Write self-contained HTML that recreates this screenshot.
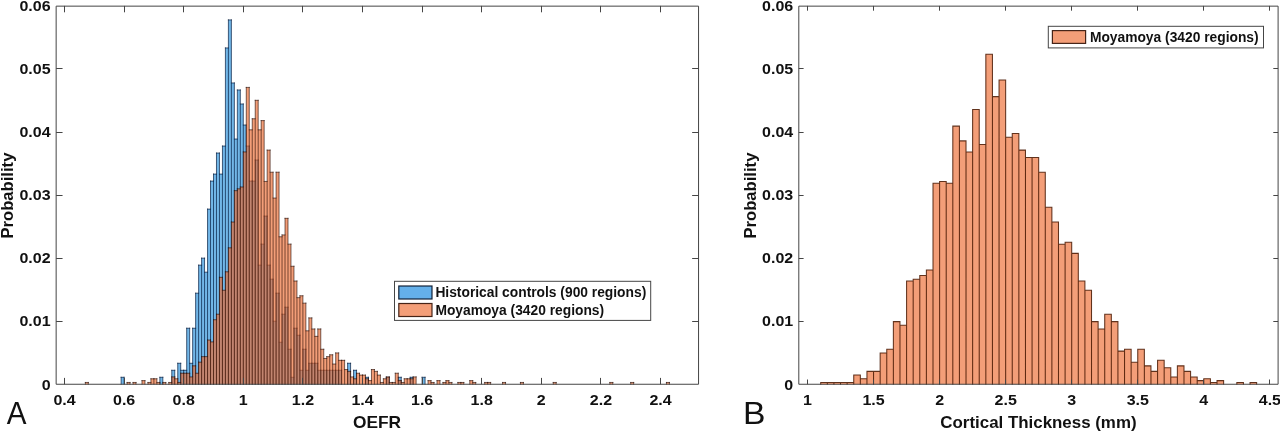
<!DOCTYPE html>
<html lang="en"><head><meta charset="utf-8"><title>Histograms</title>
<style>html,body{margin:0;padding:0;background:#fff}svg{display:block}text{font-family:"Liberation Sans", Arial, Helvetica, sans-serif;fill:#111}.t{font-size:14.7px;font-weight:bold}.l{font-size:16.9px;font-weight:bold}.g{font-size:13.8px;font-weight:bold}.p{font-size:31.2px;font-weight:normal}</style></head><body>
<svg width="1280" height="432" viewBox="0 0 1280 432">
<rect width="1280" height="432" fill="#fff"/>
<path d="M121.12 384.3V377.29H124.1V384.3ZM159.86 384.3V377.29H162.84V384.3ZM171.78 384.3V370.29H174.76V384.3ZM177.74 384.3V363.28H180.72V384.3ZM180.72 384.3V370.29H183.7V384.3ZM183.7 384.3V370.29H186.68V384.3ZM186.68 384.3V328.24H189.66V384.3ZM189.66 384.3V363.28H192.64V384.3ZM192.64 384.3V328.24H195.62V384.3ZM195.62 384.3V293.2H198.6V384.3ZM198.6 384.3V265.17H201.58V384.3ZM201.58 384.3V258.17H204.56V384.3ZM204.56 384.3V272.18H207.54V384.3ZM207.54 384.3V209.11H210.52V384.3ZM210.52 384.3V181.09H213.5V384.3ZM213.5 384.3V174.08H216.48V384.3ZM216.48 384.3V153.06H219.46V384.3ZM219.46 384.3V174.08H222.44V384.3ZM222.44 384.3V146.05H225.42V384.3ZM225.42 384.3V47.94H228.4V384.3ZM228.4 384.3V19.91H231.38V384.3ZM231.38 384.3V82.98H234.36V384.3ZM234.36 384.3V139.04H237.34V384.3ZM237.34 384.3V89.99H240.32V384.3ZM240.32 384.3V104H243.3V384.3ZM243.3 384.3V125.03H246.28V384.3ZM246.28 384.3V146.05H249.26V384.3ZM249.26 384.3V181.09H252.24V384.3ZM252.24 384.3V181.09H255.22V384.3ZM255.22 384.3V160.06H258.2V384.3ZM258.2 384.3V265.17H261.18V384.3ZM261.18 384.3V244.15H264.16V384.3ZM264.16 384.3V216.12H267.14V384.3ZM267.14 384.3V265.17H270.12V384.3ZM270.12 384.3V279.19H273.1V384.3ZM273.1 384.3V321.23H276.08V384.3ZM276.08 384.3V293.2H279.06V384.3ZM279.06 384.3V342.26H282.04V384.3ZM282.04 384.3V314.23H285.02V384.3ZM285.02 384.3V307.22H288V384.3ZM288 384.3V349.26H290.98V384.3ZM290.98 384.3V377.29H293.96V384.3ZM293.96 384.3V328.24H296.94V384.3ZM296.94 384.3V335.25H299.92V384.3ZM299.92 384.3V370.29H302.9V384.3ZM302.9 384.3V349.26H305.88V384.3ZM305.88 384.3V370.29H308.86V384.3ZM308.86 384.3V363.28H311.84V384.3ZM311.84 384.3V363.28H314.82V384.3ZM314.82 384.3V363.28H317.8V384.3ZM317.8 384.3V370.29H320.78V384.3ZM320.78 384.3V370.29H323.76V384.3ZM323.76 384.3V370.29H326.74V384.3ZM326.74 384.3V370.29H329.72V384.3ZM329.72 384.3V370.29H332.7V384.3ZM332.7 384.3V370.29H335.68V384.3ZM335.68 384.3V370.29H338.66V384.3ZM338.66 384.3V370.29H341.64V384.3ZM347.6 384.3V363.28H350.58V384.3ZM353.56 384.3V370.29H356.54V384.3ZM365.48 384.3V377.29H368.46V384.3ZM386.34 384.3V377.29H389.32V384.3ZM398.26 384.3V377.29H401.24V384.3ZM410.18 384.3V377.29H413.16V384.3ZM422.1 384.3V377.29H425.08V384.3Z" fill="rgb(114,183,232)"/><path d="M121.12 377.29H124.1M159.86 377.29H162.84M171.78 370.29H174.76M177.74 363.28H180.72M180.72 370.29H183.7M183.7 370.29H186.68M186.68 328.24H189.66M189.66 363.28H192.64M192.64 328.24H195.62M195.62 293.2H198.6M198.6 265.17H201.58M201.58 258.17H204.56M204.56 272.18H207.54M207.54 209.11H210.52M210.52 181.09H213.5M213.5 174.08H216.48M216.48 153.06H219.46M219.46 174.08H222.44M222.44 146.05H225.42M225.42 47.94H228.4M228.4 19.91H231.38M231.38 82.98H234.36M234.36 139.04H237.34M237.34 89.99H240.32M240.32 104H243.3M243.3 125.03H246.28M246.28 146.05H249.26M249.26 181.09H252.24M252.24 181.09H255.22M255.22 160.06H258.2M258.2 265.17H261.18M261.18 244.15H264.16M264.16 216.12H267.14M267.14 265.17H270.12M270.12 279.19H273.1M273.1 321.23H276.08M276.08 293.2H279.06M279.06 342.26H282.04M282.04 314.23H285.02M285.02 307.22H288M288 349.26H290.98M290.98 377.29H293.96M293.96 328.24H296.94M296.94 335.25H299.92M299.92 370.29H302.9M302.9 349.26H305.88M305.88 370.29H308.86M308.86 363.28H311.84M311.84 363.28H314.82M314.82 363.28H317.8M317.8 370.29H320.78M320.78 370.29H323.76M323.76 370.29H326.74M326.74 370.29H329.72M329.72 370.29H332.7M332.7 370.29H335.68M335.68 370.29H338.66M338.66 370.29H341.64M347.6 363.28H350.58M353.56 370.29H356.54M365.48 377.29H368.46M386.34 377.29H389.32M398.26 377.29H401.24M410.18 377.29H413.16M422.1 377.29H425.08M121.12 384.3V377.29M124.1 384.3V377.29M159.86 384.3V377.29M162.84 384.3V377.29M171.78 384.3V370.29M174.76 384.3V370.29M177.74 384.3V363.28M180.72 384.3V363.28M183.7 384.3V370.29M186.68 384.3V328.24M189.66 384.3V328.24M192.64 384.3V328.24M195.62 384.3V293.2M198.6 384.3V265.17M201.58 384.3V258.17M204.56 384.3V258.17M207.54 384.3V209.11M210.52 384.3V181.09M213.5 384.3V174.08M216.48 384.3V153.06M219.46 384.3V153.06M222.44 384.3V146.05M225.42 384.3V47.94M228.4 384.3V19.91M231.38 384.3V19.91M234.36 384.3V82.98M237.34 384.3V89.99M240.32 384.3V89.99M243.3 384.3V104M246.28 384.3V125.03M249.26 384.3V146.05M252.24 384.3V181.09M255.22 384.3V160.06M258.2 384.3V160.06M261.18 384.3V244.15M264.16 384.3V216.12M267.14 384.3V216.12M270.12 384.3V265.17M273.1 384.3V279.19M276.08 384.3V293.2M279.06 384.3V293.2M282.04 384.3V314.23M285.02 384.3V307.22M288 384.3V307.22M290.98 384.3V349.26M293.96 384.3V328.24M296.94 384.3V328.24M299.92 384.3V335.25M302.9 384.3V349.26M305.88 384.3V349.26M308.86 384.3V363.28M311.84 384.3V363.28M314.82 384.3V363.28M317.8 384.3V363.28M320.78 384.3V370.29M323.76 384.3V370.29M326.74 384.3V370.29M329.72 384.3V370.29M332.7 384.3V370.29M335.68 384.3V370.29M338.66 384.3V370.29M341.64 384.3V370.29M347.6 384.3V363.28M350.58 384.3V363.28M353.56 384.3V370.29M356.54 384.3V370.29M365.48 384.3V377.29M368.46 384.3V377.29M386.34 384.3V377.29M389.32 384.3V377.29M398.26 384.3V377.29M401.24 384.3V377.29M410.18 384.3V377.29M413.16 384.3V377.29M422.1 384.3V377.29M425.08 384.3V377.29" fill="none" stroke="rgba(0,25,60,0.95)" stroke-width="0.72" stroke-linecap="square"/>
<path d="M85.36 384.3V382.46H88.34V384.3ZM127.08 384.3V382.46H130.06V384.3ZM133.04 384.3V382.46H136.02V384.3ZM141.98 384.3V380.61H144.96V384.3ZM147.94 384.3V382.46H150.92V384.3ZM150.92 384.3V378.77H153.9V384.3ZM153.9 384.3V378.77H156.88V384.3ZM156.88 384.3V382.46H159.86V384.3ZM162.84 384.3V382.46H165.82V384.3ZM168.8 384.3V382.46H171.78V384.3ZM171.78 384.3V376.92H174.76V384.3ZM174.76 384.3V378.77H177.74V384.3ZM177.74 384.3V382.46H180.72V384.3ZM180.72 384.3V373.24H183.7V384.3ZM183.7 384.3V373.24H186.68V384.3ZM186.68 384.3V373.24H189.66V384.3ZM189.66 384.3V376.92H192.64V384.3ZM192.64 384.3V365.86H195.62V384.3ZM195.62 384.3V373.24H198.6V384.3ZM198.6 384.3V362.17H201.58V384.3ZM201.58 384.3V356.64H204.56V384.3ZM204.56 384.3V356.64H207.54V384.3ZM207.54 384.3V340.04H210.52V384.3ZM210.52 384.3V341.89H213.5V384.3ZM213.5 384.3V319.76H216.48V384.3ZM216.48 384.3V314.23H219.46V384.3ZM219.46 384.3V277.34H222.44V384.3ZM222.44 384.3V290.25H225.42V384.3ZM225.42 384.3V271.81H228.4V384.3ZM228.4 384.3V247.84H231.38V384.3ZM231.38 384.3V222.02H234.36V384.3ZM234.36 384.3V190.67H237.34V384.3ZM237.34 384.3V188.83H240.32V384.3ZM240.32 384.3V186.99H243.3V384.3ZM243.3 384.3V151.95H246.28V384.3ZM246.28 384.3V87.41H249.26V384.3ZM249.26 384.3V129.82H252.24V384.3ZM252.24 384.3V118.76H255.22V384.3ZM255.22 384.3V100.32H258.2V384.3ZM258.2 384.3V129.82H261.18V384.3ZM261.18 384.3V120.6H264.16V384.3ZM264.16 384.3V181.45H267.14V384.3ZM267.14 384.3V150.11H270.12V384.3ZM270.12 384.3V172.23H273.1V384.3ZM273.1 384.3V198.05H276.08V384.3ZM276.08 384.3V172.23H279.06V384.3ZM279.06 384.3V236.78H282.04V384.3ZM282.04 384.3V234.93H285.02V384.3ZM285.02 384.3V218.34H288V384.3ZM288 384.3V244.15H290.98V384.3ZM290.98 384.3V266.28H293.96V384.3ZM293.96 384.3V281.03H296.94V384.3ZM296.94 384.3V297.63H299.92V384.3ZM299.92 384.3V295.79H302.9V384.3ZM302.9 384.3V303.16H305.88V384.3ZM305.88 384.3V330.82H308.86V384.3ZM308.86 384.3V317.91H311.84V384.3ZM311.84 384.3V328.98H314.82V384.3ZM314.82 384.3V336.35H317.8V384.3ZM317.8 384.3V328.98H320.78V384.3ZM320.78 384.3V349.26H323.76V384.3ZM323.76 384.3V358.48H326.74V384.3ZM326.74 384.3V356.64H329.72V384.3ZM329.72 384.3V354.8H332.7V384.3ZM332.7 384.3V364.02H335.68V384.3ZM335.68 384.3V352.95H338.66V384.3ZM338.66 384.3V360.33H341.64V384.3ZM341.64 384.3V360.33H344.62V384.3ZM344.62 384.3V369.55H347.6V384.3ZM347.6 384.3V371.39H350.58V384.3ZM350.58 384.3V376.92H353.56V384.3ZM353.56 384.3V378.77H356.54V384.3ZM356.54 384.3V373.24H359.52V384.3ZM359.52 384.3V375.08H362.5V384.3ZM362.5 384.3V375.08H365.48V384.3ZM365.48 384.3V378.77H368.46V384.3ZM368.46 384.3V380.61H371.44V384.3ZM371.44 384.3V369.55H374.42V384.3ZM374.42 384.3V371.39H377.4V384.3ZM377.4 384.3V375.08H380.38V384.3ZM380.38 384.3V382.46H383.36V384.3ZM383.36 384.3V378.77H386.34V384.3ZM386.34 384.3V376.92H389.32V384.3ZM389.32 384.3V382.46H392.3V384.3ZM392.3 384.3V382.46H395.28V384.3ZM395.28 384.3V373.24H398.26V384.3ZM398.26 384.3V380.61H401.24V384.3ZM401.24 384.3V382.46H404.22V384.3ZM404.22 384.3V378.77H407.2V384.3ZM407.2 384.3V378.77H410.18V384.3ZM410.18 384.3V378.77H413.16V384.3ZM413.16 384.3V376.92H416.14V384.3ZM428.06 384.3V380.61H431.04V384.3ZM431.04 384.3V382.46H434.02V384.3ZM437 384.3V380.61H439.98V384.3ZM442.96 384.3V382.46H445.94V384.3ZM445.94 384.3V380.61H448.92V384.3ZM448.92 384.3V382.46H451.9V384.3ZM457.86 384.3V382.46H460.84V384.3ZM460.84 384.3V382.46H463.82V384.3ZM469.78 384.3V380.61H472.76V384.3ZM472.76 384.3V382.46H475.74V384.3ZM484.68 384.3V382.46H487.66V384.3ZM487.66 384.3V382.46H490.64V384.3ZM502.56 384.3V382.46H505.54V384.3ZM520.44 384.3V382.46H523.42V384.3ZM553.22 384.3V382.46H556.2V384.3ZM609.84 384.3V382.46H612.82V384.3ZM630.7 384.3V382.46H633.68V384.3ZM666.46 384.3V382.46H669.44V384.3Z" fill="rgba(237,106,48,0.65)"/><path d="M85.36 382.46H88.34M127.08 382.46H130.06M133.04 382.46H136.02M141.98 380.61H144.96M147.94 382.46H150.92M150.92 378.77H153.9M153.9 378.77H156.88M156.88 382.46H159.86M162.84 382.46H165.82M168.8 382.46H171.78M171.78 376.92H174.76M174.76 378.77H177.74M177.74 382.46H180.72M180.72 373.24H183.7M183.7 373.24H186.68M186.68 373.24H189.66M189.66 376.92H192.64M192.64 365.86H195.62M195.62 373.24H198.6M198.6 362.17H201.58M201.58 356.64H204.56M204.56 356.64H207.54M207.54 340.04H210.52M210.52 341.89H213.5M213.5 319.76H216.48M216.48 314.23H219.46M219.46 277.34H222.44M222.44 290.25H225.42M225.42 271.81H228.4M228.4 247.84H231.38M231.38 222.02H234.36M234.36 190.67H237.34M237.34 188.83H240.32M240.32 186.99H243.3M243.3 151.95H246.28M246.28 87.41H249.26M249.26 129.82H252.24M252.24 118.76H255.22M255.22 100.32H258.2M258.2 129.82H261.18M261.18 120.6H264.16M264.16 181.45H267.14M267.14 150.11H270.12M270.12 172.23H273.1M273.1 198.05H276.08M276.08 172.23H279.06M279.06 236.78H282.04M282.04 234.93H285.02M285.02 218.34H288M288 244.15H290.98M290.98 266.28H293.96M293.96 281.03H296.94M296.94 297.63H299.92M299.92 295.79H302.9M302.9 303.16H305.88M305.88 330.82H308.86M308.86 317.91H311.84M311.84 328.98H314.82M314.82 336.35H317.8M317.8 328.98H320.78M320.78 349.26H323.76M323.76 358.48H326.74M326.74 356.64H329.72M329.72 354.8H332.7M332.7 364.02H335.68M335.68 352.95H338.66M338.66 360.33H341.64M341.64 360.33H344.62M344.62 369.55H347.6M347.6 371.39H350.58M350.58 376.92H353.56M353.56 378.77H356.54M356.54 373.24H359.52M359.52 375.08H362.5M362.5 375.08H365.48M365.48 378.77H368.46M368.46 380.61H371.44M371.44 369.55H374.42M374.42 371.39H377.4M377.4 375.08H380.38M380.38 382.46H383.36M383.36 378.77H386.34M386.34 376.92H389.32M389.32 382.46H392.3M392.3 382.46H395.28M395.28 373.24H398.26M398.26 380.61H401.24M401.24 382.46H404.22M404.22 378.77H407.2M407.2 378.77H410.18M410.18 378.77H413.16M413.16 376.92H416.14M428.06 380.61H431.04M431.04 382.46H434.02M437 380.61H439.98M442.96 382.46H445.94M445.94 380.61H448.92M448.92 382.46H451.9M457.86 382.46H460.84M460.84 382.46H463.82M469.78 380.61H472.76M472.76 382.46H475.74M484.68 382.46H487.66M487.66 382.46H490.64M502.56 382.46H505.54M520.44 382.46H523.42M553.22 382.46H556.2M609.84 382.46H612.82M630.7 382.46H633.68M666.46 382.46H669.44M85.36 384.3V382.46M88.34 384.3V382.46M127.08 384.3V382.46M130.06 384.3V382.46M133.04 384.3V382.46M136.02 384.3V382.46M141.98 384.3V380.61M144.96 384.3V380.61M147.94 384.3V382.46M150.92 384.3V378.77M153.9 384.3V378.77M156.88 384.3V378.77M159.86 384.3V382.46M162.84 384.3V382.46M165.82 384.3V382.46M168.8 384.3V382.46M171.78 384.3V376.92M174.76 384.3V376.92M177.74 384.3V378.77M180.72 384.3V373.24M183.7 384.3V373.24M186.68 384.3V373.24M189.66 384.3V373.24M192.64 384.3V365.86M195.62 384.3V365.86M198.6 384.3V362.17M201.58 384.3V356.64M204.56 384.3V356.64M207.54 384.3V340.04M210.52 384.3V340.04M213.5 384.3V319.76M216.48 384.3V314.23M219.46 384.3V277.34M222.44 384.3V277.34M225.42 384.3V271.81M228.4 384.3V247.84M231.38 384.3V222.02M234.36 384.3V190.67M237.34 384.3V188.83M240.32 384.3V186.99M243.3 384.3V151.95M246.28 384.3V87.41M249.26 384.3V87.41M252.24 384.3V118.76M255.22 384.3V100.32M258.2 384.3V100.32M261.18 384.3V120.6M264.16 384.3V120.6M267.14 384.3V150.11M270.12 384.3V150.11M273.1 384.3V172.23M276.08 384.3V172.23M279.06 384.3V172.23M282.04 384.3V234.93M285.02 384.3V218.34M288 384.3V218.34M290.98 384.3V244.15M293.96 384.3V266.28M296.94 384.3V281.03M299.92 384.3V295.79M302.9 384.3V295.79M305.88 384.3V303.16M308.86 384.3V317.91M311.84 384.3V317.91M314.82 384.3V328.98M317.8 384.3V328.98M320.78 384.3V328.98M323.76 384.3V349.26M326.74 384.3V356.64M329.72 384.3V354.8M332.7 384.3V354.8M335.68 384.3V352.95M338.66 384.3V352.95M341.64 384.3V360.33M344.62 384.3V360.33M347.6 384.3V369.55M350.58 384.3V371.39M353.56 384.3V376.92M356.54 384.3V373.24M359.52 384.3V373.24M362.5 384.3V375.08M365.48 384.3V375.08M368.46 384.3V378.77M371.44 384.3V369.55M374.42 384.3V369.55M377.4 384.3V371.39M380.38 384.3V375.08M383.36 384.3V378.77M386.34 384.3V376.92M389.32 384.3V376.92M392.3 384.3V382.46M395.28 384.3V373.24M398.26 384.3V373.24M401.24 384.3V380.61M404.22 384.3V378.77M407.2 384.3V378.77M410.18 384.3V378.77M413.16 384.3V376.92M416.14 384.3V376.92M428.06 384.3V380.61M431.04 384.3V380.61M434.02 384.3V382.46M437 384.3V380.61M439.98 384.3V380.61M442.96 384.3V382.46M445.94 384.3V380.61M448.92 384.3V380.61M451.9 384.3V382.46M457.86 384.3V382.46M460.84 384.3V382.46M463.82 384.3V382.46M469.78 384.3V380.61M472.76 384.3V380.61M475.74 384.3V382.46M484.68 384.3V382.46M487.66 384.3V382.46M490.64 384.3V382.46M502.56 384.3V382.46M505.54 384.3V382.46M520.44 384.3V382.46M523.42 384.3V382.46M553.22 384.3V382.46M556.2 384.3V382.46M609.84 384.3V382.46M612.82 384.3V382.46M630.7 384.3V382.46M633.68 384.3V382.46M666.46 384.3V382.46M669.44 384.3V382.46" fill="none" stroke="rgba(40,10,0,0.88)" stroke-width="0.7" stroke-linecap="square"/>
<path d="M820.71 384.3V382.46H827.32V384.3ZM827.32 384.3V382.46H833.92V384.3ZM833.92 384.3V382.46H840.52V384.3ZM840.52 384.3V382.46H847.13V384.3ZM847.13 384.3V382.46H853.74V384.3ZM853.74 384.3V375.08H860.34V384.3ZM860.34 384.3V378.77H866.95V384.3ZM866.95 384.3V371.39H873.55V384.3ZM873.55 384.3V371.39H880.15V384.3ZM880.15 384.3V352.95H886.76V384.3ZM886.76 384.3V349.26H893.37V384.3ZM893.37 384.3V321.6H899.97V384.3ZM899.97 384.3V325.29H906.58V384.3ZM906.58 384.3V281.03H913.18V384.3ZM913.18 384.3V279.19H919.78V384.3ZM919.78 384.3V275.5H926.39V384.3ZM926.39 384.3V269.97H933V384.3ZM933 384.3V183.3H939.6V384.3ZM939.6 384.3V181.45H946.21V384.3ZM946.21 384.3V183.3H952.81V384.3ZM952.81 384.3V126.13H959.42V384.3ZM959.42 384.3V140.88H966.02V384.3ZM966.02 384.3V151.95H972.62V384.3ZM972.62 384.3V109.54H979.23V384.3ZM979.23 384.3V144.57H985.84V384.3ZM985.84 384.3V54.21H992.44V384.3ZM992.44 384.3V96.63H999.05V384.3ZM999.05 384.3V80.03H1005.65V384.3ZM1005.65 384.3V137.2H1012.25V384.3ZM1012.25 384.3V133.51H1018.86V384.3ZM1018.86 384.3V150.11H1025.47V384.3ZM1025.47 384.3V157.48H1032.07V384.3ZM1032.07 384.3V157.48H1038.67V384.3ZM1038.67 384.3V172.23H1045.28V384.3ZM1045.28 384.3V207.27H1051.88V384.3ZM1051.88 384.3V222.02H1058.49V384.3ZM1058.49 384.3V244.15H1065.1V384.3ZM1065.1 384.3V242.31H1071.7V384.3ZM1071.7 384.3V253.37H1078.31V384.3ZM1078.31 384.3V281.03H1084.91V384.3ZM1084.91 384.3V290.25H1091.52V384.3ZM1091.52 384.3V321.6H1098.12V384.3ZM1098.12 384.3V328.98H1104.72V384.3ZM1104.72 384.3V314.23H1111.33V384.3ZM1111.33 384.3V321.6H1117.93V384.3ZM1117.93 384.3V351.11H1124.54V384.3ZM1124.54 384.3V349.26H1131.14V384.3ZM1131.14 384.3V362.17H1137.75V384.3ZM1137.75 384.3V349.26H1144.36V384.3ZM1144.36 384.3V365.86H1150.96V384.3ZM1150.96 384.3V371.39H1157.57V384.3ZM1157.57 384.3V360.33H1164.17V384.3ZM1164.17 384.3V367.7H1170.78V384.3ZM1170.78 384.3V376.92H1177.38V384.3ZM1177.38 384.3V365.86H1183.99V384.3ZM1183.99 384.3V371.39H1190.59V384.3ZM1190.59 384.3V376.92H1197.19V384.3ZM1197.19 384.3V380.61H1203.8V384.3ZM1203.8 384.3V378.77H1210.41V384.3ZM1210.41 384.3V382.46H1217.01V384.3ZM1217.01 384.3V380.61H1223.62V384.3ZM1236.83 384.3V382.46H1243.43V384.3ZM1250.03 384.3V382.46H1256.64V384.3Z" fill="rgba(237,106,48,0.65)"/><path d="M820.71 382.46H827.32M827.32 382.46H833.92M833.92 382.46H840.52M840.52 382.46H847.13M847.13 382.46H853.74M853.74 375.08H860.34M860.34 378.77H866.95M866.95 371.39H873.55M873.55 371.39H880.15M880.15 352.95H886.76M886.76 349.26H893.37M893.37 321.6H899.97M899.97 325.29H906.58M906.58 281.03H913.18M913.18 279.19H919.78M919.78 275.5H926.39M926.39 269.97H933M933 183.3H939.6M939.6 181.45H946.21M946.21 183.3H952.81M952.81 126.13H959.42M959.42 140.88H966.02M966.02 151.95H972.62M972.62 109.54H979.23M979.23 144.57H985.84M985.84 54.21H992.44M992.44 96.63H999.05M999.05 80.03H1005.65M1005.65 137.2H1012.25M1012.25 133.51H1018.86M1018.86 150.11H1025.47M1025.47 157.48H1032.07M1032.07 157.48H1038.67M1038.67 172.23H1045.28M1045.28 207.27H1051.88M1051.88 222.02H1058.49M1058.49 244.15H1065.1M1065.1 242.31H1071.7M1071.7 253.37H1078.31M1078.31 281.03H1084.91M1084.91 290.25H1091.52M1091.52 321.6H1098.12M1098.12 328.98H1104.72M1104.72 314.23H1111.33M1111.33 321.6H1117.93M1117.93 351.11H1124.54M1124.54 349.26H1131.14M1131.14 362.17H1137.75M1137.75 349.26H1144.36M1144.36 365.86H1150.96M1150.96 371.39H1157.57M1157.57 360.33H1164.17M1164.17 367.7H1170.78M1170.78 376.92H1177.38M1177.38 365.86H1183.99M1183.99 371.39H1190.59M1190.59 376.92H1197.19M1197.19 380.61H1203.8M1203.8 378.77H1210.41M1210.41 382.46H1217.01M1217.01 380.61H1223.62M1236.83 382.46H1243.43M1250.03 382.46H1256.64M820.71 384.3V382.46M827.32 384.3V382.46M833.92 384.3V382.46M840.52 384.3V382.46M847.13 384.3V382.46M853.74 384.3V375.08M860.34 384.3V375.08M866.95 384.3V371.39M873.55 384.3V371.39M880.15 384.3V352.95M886.76 384.3V349.26M893.37 384.3V321.6M899.97 384.3V321.6M906.58 384.3V281.03M913.18 384.3V279.19M919.78 384.3V275.5M926.39 384.3V269.97M933 384.3V183.3M939.6 384.3V181.45M946.21 384.3V181.45M952.81 384.3V126.13M959.42 384.3V126.13M966.02 384.3V140.88M972.62 384.3V109.54M979.23 384.3V109.54M985.84 384.3V54.21M992.44 384.3V54.21M999.05 384.3V80.03M1005.65 384.3V80.03M1012.25 384.3V133.51M1018.86 384.3V133.51M1025.47 384.3V150.11M1032.07 384.3V157.48M1038.67 384.3V157.48M1045.28 384.3V172.23M1051.88 384.3V207.27M1058.49 384.3V222.02M1065.1 384.3V242.31M1071.7 384.3V242.31M1078.31 384.3V253.37M1084.91 384.3V281.03M1091.52 384.3V290.25M1098.12 384.3V321.6M1104.72 384.3V314.23M1111.33 384.3V314.23M1117.93 384.3V321.6M1124.54 384.3V349.26M1131.14 384.3V349.26M1137.75 384.3V349.26M1144.36 384.3V349.26M1150.96 384.3V365.86M1157.57 384.3V360.33M1164.17 384.3V360.33M1170.78 384.3V367.7M1177.38 384.3V365.86M1183.99 384.3V365.86M1190.59 384.3V371.39M1197.19 384.3V376.92M1203.8 384.3V378.77M1210.41 384.3V378.77M1217.01 384.3V380.61M1223.62 384.3V380.61M1236.83 384.3V382.46M1243.43 384.3V382.46M1250.03 384.3V382.46M1256.64 384.3V382.46" fill="none" stroke="rgba(70,22,0,0.85)" stroke-width="1.05" stroke-linecap="square"/>
<path d="M56.15 6.15H698.55V384.25H56.15Z" fill="none" stroke="#454545" stroke-width="1.0"/><path d="M64.5 384.3V377.9M64.5 5.9V12.3M124.5 384.3V377.9M124.5 5.9V12.3M183.5 384.3V377.9M183.5 5.9V12.3M243.5 384.3V377.9M243.5 5.9V12.3M302.5 384.3V377.9M302.5 5.9V12.3M362.5 384.3V377.9M362.5 5.9V12.3M422.5 384.3V377.9M422.5 5.9V12.3M481.5 384.3V377.9M481.5 5.9V12.3M541.5 384.3V377.9M541.5 5.9V12.3M600.5 384.3V377.9M600.5 5.9V12.3M660.5 384.3V377.9M660.5 5.9V12.3M56.15 321.5H62.55M698.55 321.5H692.15M56.15 258.5H62.55M698.55 258.5H692.15M56.15 195.5H62.55M698.55 195.5H692.15M56.15 132.5H62.55M698.55 132.5H692.15M56.15 68.5H62.55M698.55 68.5H692.15" fill="none" stroke="#454545" stroke-width="1.0"/><text class="t" transform="translate(64.5 404.7) scale(1.09 1)" text-anchor="middle">0.4</text><text class="t" transform="translate(124.1 404.7) scale(1.09 1)" text-anchor="middle">0.6</text><text class="t" transform="translate(183.7 404.7) scale(1.09 1)" text-anchor="middle">0.8</text><text class="t" transform="translate(243.3 404.7) scale(1.09 1)" text-anchor="middle">1</text><text class="t" transform="translate(302.9 404.7) scale(1.09 1)" text-anchor="middle">1.2</text><text class="t" transform="translate(362.5 404.7) scale(1.09 1)" text-anchor="middle">1.4</text><text class="t" transform="translate(422.1 404.7) scale(1.09 1)" text-anchor="middle">1.6</text><text class="t" transform="translate(481.7 404.7) scale(1.09 1)" text-anchor="middle">1.8</text><text class="t" transform="translate(541.3 404.7) scale(1.09 1)" text-anchor="middle">2</text><text class="t" transform="translate(600.9 404.7) scale(1.09 1)" text-anchor="middle">2.2</text><text class="t" transform="translate(660.5 404.7) scale(1.09 1)" text-anchor="middle">2.4</text><text class="t" transform="translate(50.55 389.55) scale(1.09 1)" text-anchor="end">0</text><text class="t" transform="translate(50.55 326.48) scale(1.09 1)" text-anchor="end">0.01</text><text class="t" transform="translate(50.55 263.42) scale(1.09 1)" text-anchor="end">0.02</text><text class="t" transform="translate(50.55 200.35) scale(1.09 1)" text-anchor="end">0.03</text><text class="t" transform="translate(50.55 137.28) scale(1.09 1)" text-anchor="end">0.04</text><text class="t" transform="translate(50.55 74.22) scale(1.09 1)" text-anchor="end">0.05</text><text class="t" transform="translate(50.55 11.15) scale(1.09 1)" text-anchor="end">0.06</text>
<path d="M798.8 6.15H1278.1V384.25H798.8Z" fill="none" stroke="#454545" stroke-width="1.0"/><path d="M807.5 384.3V379.5M807.5 5.9V10.7M873.5 384.3V379.5M873.5 5.9V10.7M939.5 384.3V379.5M939.5 5.9V10.7M1005.5 384.3V379.5M1005.5 5.9V10.7M1071.5 384.3V379.5M1071.5 5.9V10.7M1137.5 384.3V379.5M1137.5 5.9V10.7M1203.5 384.3V379.5M1203.5 5.9V10.7M1269.5 384.3V379.5M1269.5 5.9V10.7M798.8 321.5H803.6M1278.1 321.5H1273.3M798.8 258.5H803.6M1278.1 258.5H1273.3M798.8 195.5H803.6M1278.1 195.5H1273.3M798.8 132.5H803.6M1278.1 132.5H1273.3M798.8 68.5H803.6M1278.1 68.5H1273.3" fill="none" stroke="#454545" stroke-width="1.0"/><text class="t" transform="translate(807.5 404.7) scale(1.09 1)" text-anchor="middle">1</text><text class="t" transform="translate(873.55 404.7) scale(1.09 1)" text-anchor="middle">1.5</text><text class="t" transform="translate(939.6 404.7) scale(1.09 1)" text-anchor="middle">2</text><text class="t" transform="translate(1005.65 404.7) scale(1.09 1)" text-anchor="middle">2.5</text><text class="t" transform="translate(1071.7 404.7) scale(1.09 1)" text-anchor="middle">3</text><text class="t" transform="translate(1137.75 404.7) scale(1.09 1)" text-anchor="middle">3.5</text><text class="t" transform="translate(1203.8 404.7) scale(1.09 1)" text-anchor="middle">4</text><text class="t" transform="translate(1269.85 404.7) scale(1.09 1)" text-anchor="middle">4.5</text><text class="t" transform="translate(793.2 389.55) scale(1.09 1)" text-anchor="end">0</text><text class="t" transform="translate(793.2 326.48) scale(1.09 1)" text-anchor="end">0.01</text><text class="t" transform="translate(793.2 263.42) scale(1.09 1)" text-anchor="end">0.02</text><text class="t" transform="translate(793.2 200.35) scale(1.09 1)" text-anchor="end">0.03</text><text class="t" transform="translate(793.2 137.28) scale(1.09 1)" text-anchor="end">0.04</text><text class="t" transform="translate(793.2 74.22) scale(1.09 1)" text-anchor="end">0.05</text><text class="t" transform="translate(793.2 11.15) scale(1.09 1)" text-anchor="end">0.06</text>
<text class="l" transform="translate(377.05 427.5) scale(1.025 1)" text-anchor="middle">OEFR</text>
<text class="l" transform="translate(1038.45 427.5)" text-anchor="middle">Cortical Thickness (mm)</text>
<text class="l" transform="translate(12.6 195.6) rotate(-90) scale(0.985 1)" text-anchor="middle">Probability</text>
<text class="l" transform="translate(755.6 195.6) rotate(-90) scale(0.985 1)" text-anchor="middle">Probability</text>
<text class="p" transform="translate(6.8 423.5) scale(0.95 1)">A</text>
<text class="p" transform="translate(743 423.5) scale(1.08 1)">B</text>
<rect x="394.5" y="281.3" width="256.2" height="39.1" fill="#fff" stroke="#454545" stroke-width="1"/>
<rect x="398.8" y="286" width="33.2" height="13" fill="rgb(100,176,234)" stroke="rgba(5,20,40,0.92)" stroke-width="1.2"/>
<rect x="398.8" y="303.5" width="33.2" height="13" fill="rgba(237,106,48,0.65)" stroke="rgba(50,18,5,0.9)" stroke-width="1.2"/>
<text class="g" transform="translate(435.4 297.3)">Historical controls (900 regions)</text>
<text class="g" transform="translate(435.4 314.8)">Moyamoya (3420 regions)</text>
<rect x="1048.3" y="26.3" width="215.2" height="21.6" fill="#fff" stroke="#454545" stroke-width="1"/>
<rect x="1052.4" y="30.6" width="33.2" height="12.8" fill="rgba(237,106,48,0.65)" stroke="rgba(50,18,5,0.9)" stroke-width="1.2"/>
<text class="g" transform="translate(1089.9 41.8)">Moyamoya (3420 regions)</text>
</svg></body></html>
